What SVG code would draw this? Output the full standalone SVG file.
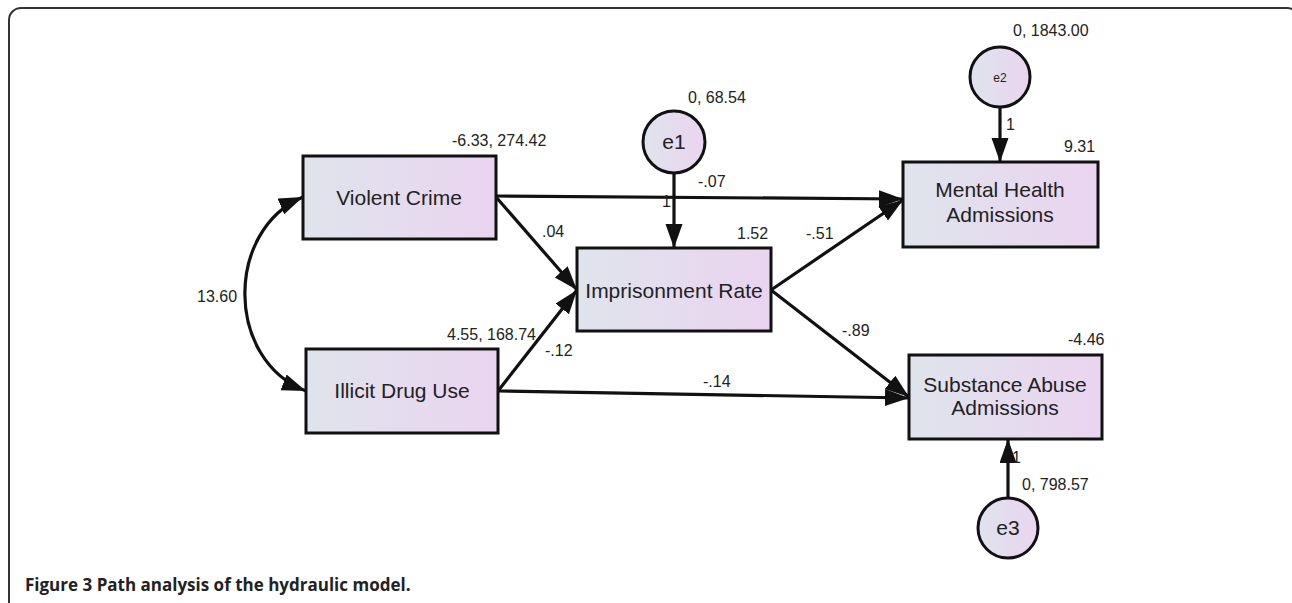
<svg xmlns="http://www.w3.org/2000/svg" width="1292" height="603" viewBox="0 0 1292 603">
<style>
.box{stroke:#111;stroke-width:3;fill:url(#g)}
.circ{stroke:#111;stroke-width:3;fill:url(#g)}
.lbl{font-family:"Liberation Sans",Arial,sans-serif;font-size:21px;fill:#222;text-anchor:middle}
.num{font-family:"Liberation Sans",Arial,sans-serif;font-size:16px;fill:#222}
.edge{stroke:#111;stroke-width:3.2;fill:none;marker-end:url(#ah)}
.cap{font-family:"Open Sans","Noto Sans",sans-serif;font-size:17px;font-weight:bold;fill:#222}
</style>
<defs>
<linearGradient id="g" x1="0" y1="0" x2="1" y2="0">
<stop offset="0" stop-color="#dfe4ec"/>
<stop offset="1" stop-color="#ead4f0"/>
</linearGradient>
<marker id="ah" markerUnits="userSpaceOnUse" markerWidth="26" markerHeight="18" refX="24" refY="8.5" orient="auto-start-reverse" viewBox="0 0 26 18">
<path d="M0,0 L24,8.5 L0,17 Z" fill="#111"/>
</marker>
</defs>
<rect x="9" y="8" width="1290" height="620" rx="12" fill="#fff" stroke="#333" stroke-width="2"/>

<g id="connectors">
<path class="edge" d="M496,196 L903,199"/>
<path class="edge" d="M496,197 L577,290"/>
<path class="edge" d="M498,391 L577,290"/>
<path class="edge" d="M498,391 L909,398"/>
<path class="edge" d="M771,290 L903,200"/>
<path class="edge" d="M771,290 L909,397"/>
<path class="edge" d="M674,174 L674,248"/>
<path class="edge" d="M1000,108 L1000,162"/>
<path class="edge" d="M1008,497 L1008,439"/>
<path class="edge" style="marker-start:url(#ah)" d="M303,197 C225,230 225,360 306,391"/>
<text class="num" x="197" y="302">13.60</text>
<text class="num" x="542" y="237">.04</text>
<text class="num" x="545" y="356">-.12</text>
<text class="num" x="698" y="187">-.07</text>
<text class="num" x="703" y="387">-.14</text>
<text class="num" x="806" y="239">-.51</text>
<text class="num" x="842" y="336">-.89</text>
<text class="num" x="662" y="207">1</text>
<text class="num" x="1006" y="130">1</text>
<text class="num" x="1012" y="463">1</text>
</g>

<g id="violent-crime">
<rect class="box" x="303" y="156" width="193" height="83"/>
<text class="lbl" x="399" y="205">Violent Crime</text>
<text class="num" x="452" y="146">-6.33, 274.42</text>
</g>

<g id="illicit-drug-use">
<rect class="box" x="306" y="349" width="192" height="84"/>
<text class="lbl" x="402" y="398">Illicit Drug Use</text>
<text class="num" x="447" y="340">4.55, 168.74</text>
</g>

<g id="imprisonment-rate">
<rect class="box" x="577" y="248" width="194" height="83"/>
<text class="lbl" x="674" y="298">Imprisonment Rate</text>
<text class="num" x="737" y="239">1.52</text>
</g>

<g id="mental-health">
<rect class="box" x="903" y="162" width="195" height="85"/>
<text class="lbl" x="1000" y="197">Mental Health</text>
<text class="lbl" x="1000" y="222">Admissions</text>
<text class="num" x="1064" y="152">9.31</text>
</g>

<g id="substance-abuse">
<rect class="box" x="909" y="355" width="193" height="84"/>
<text class="lbl" x="1005" y="392">Substance Abuse</text>
<text class="lbl" x="1005" y="415">Admissions</text>
<text class="num" x="1068" y="345">-4.46</text>
</g>

<g id="e1">
<circle class="circ" cx="674" cy="142" r="31"/>
<text class="lbl" x="674" y="149">e1</text>
<text class="num" x="688" y="103">0, 68.54</text>
</g>

<g id="e2">
<circle class="circ" cx="1000" cy="77" r="30"/>
<text class="lbl" style="font-size:12px" x="1000" y="82">e2</text>
<text class="num" x="1013" y="36">0, 1843.00</text>
</g>

<g id="e3">
<circle class="circ" cx="1008" cy="528" r="30"/>
<text class="lbl" x="1008" y="535">e3</text>
<text class="num" x="1022" y="490">0, 798.57</text>
</g>

<text class="cap" x="25" y="591">Figure 3 <tspan>Path analysis of the hydraulic model.</tspan></text>
</svg>
